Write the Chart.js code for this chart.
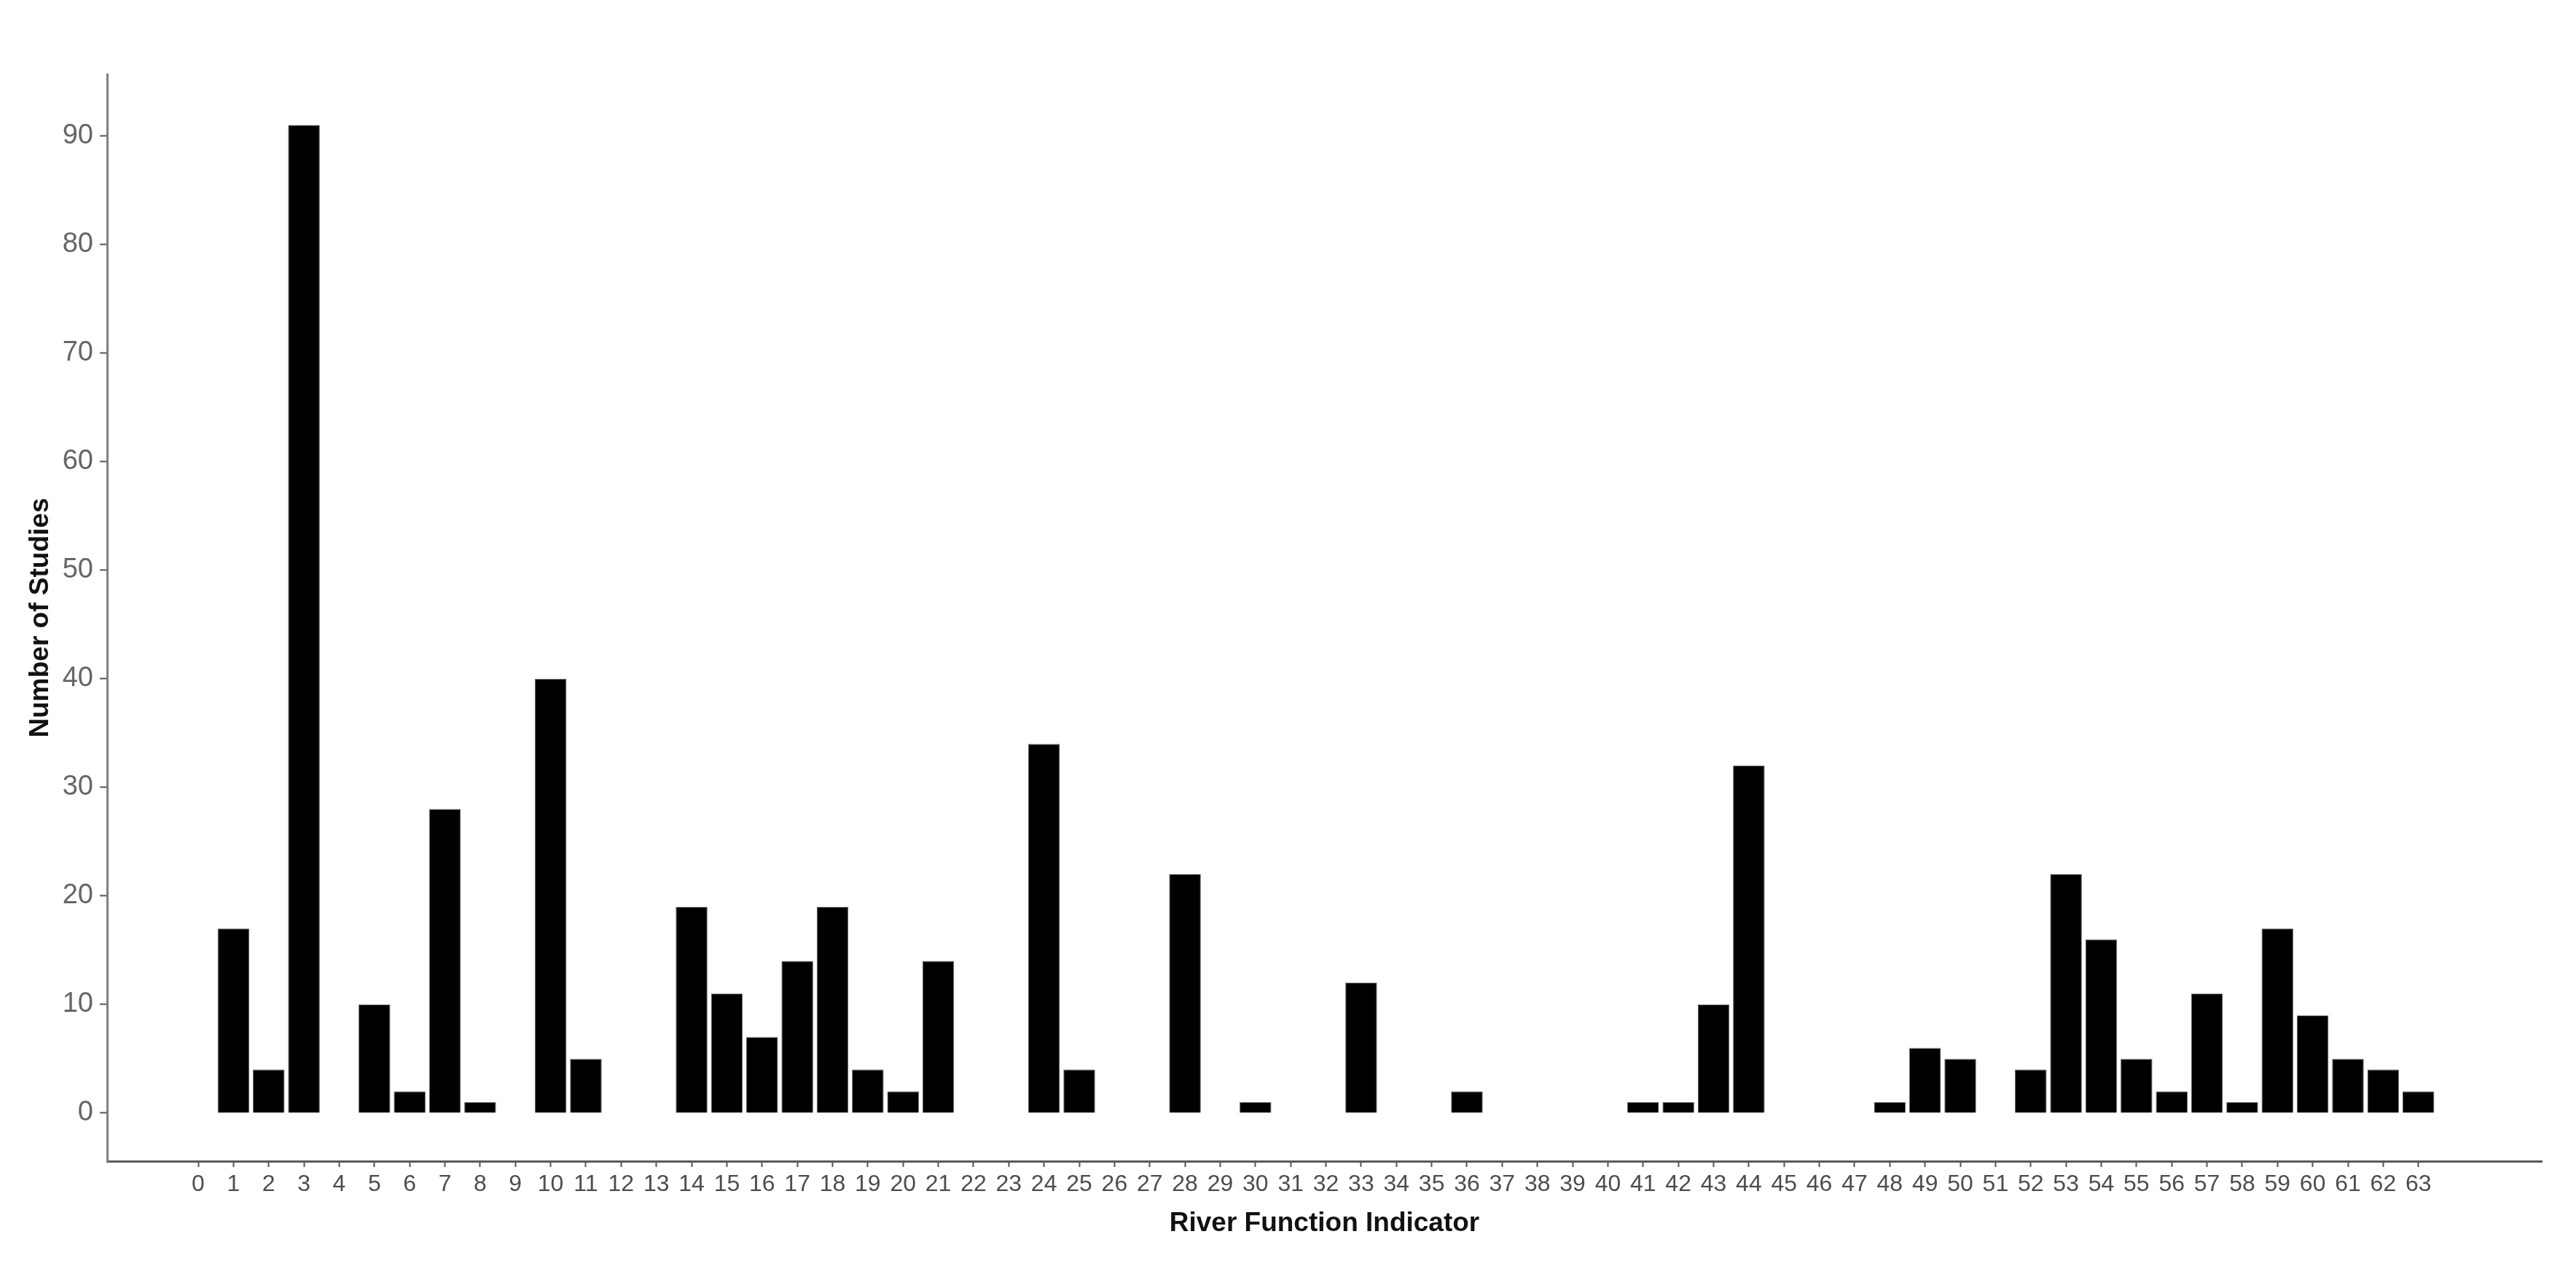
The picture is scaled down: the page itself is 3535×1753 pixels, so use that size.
<!DOCTYPE html>
<html>
<head>
<meta charset="utf-8">
<script src="https://cdn.jsdelivr.net/npm/chart.js@4.4.1/dist/chart.umd.min.js"></script>
<style>
  html, body { margin: 0; padding: 0; background: #ffffff; }
  #wrap { width: 3535px; height: 1753px; }
</style>
</head>
<body>
<div id="wrap"><canvas id="c" width="3535" height="1753"></canvas></div>
<script>
// River Function Indicator categories (0..63)
const categories = [0,1,2,3,4,5,6,7,8,9,10,11,12,13,14,15,16,17,18,19,20,21,22,23,24,25,26,27,28,29,30,31,32,33,34,35,36,37,38,39,40,41,42,43,44,45,46,47,48,49,50,51,52,53,54,55,56,57,58,59,60,61,62,63];
// Number of studies per indicator
const studies = [0,17,4,91,0,10,2,28,1,0,40,5,0,0,19,11,7,14,19,4,2,14,0,0,34,4,0,0,22,0,1,0,0,12,0,0,2,0,0,0,0,1,1,10,32,0,0,0,1,6,5,0,4,22,16,5,2,11,1,17,9,5,4,2];
// Tick labels
const xTickValues = categories;
const yTickValues = [0,10,20,30,40,50,60,70,80,90];
const xTitle = 'River Function Indicator';
const yTitle = 'Number of Studies';

const points = categories.map((c, i) => ({ x: c, y: studies[i] }));

new Chart(document.getElementById('c'), {
  type: 'bar',
  data: {
    datasets: [{
      data: points,
      backgroundColor: '#000000',
      borderColor: '#6a6a6a',
      borderWidth: 1,
      barPercentage: 0.9,
      categoryPercentage: 1.0
    }]
  },
  options: {
    responsive: false,
    animation: false,
    devicePixelRatio: 1,
    layout: { padding: { top: 102, right: 47, bottom: 0, left: 0 } },
    plugins: { legend: { display: false }, tooltip: { enabled: false } },
    scales: {
      x: {
        type: 'linear',
        offset: false,
        min: -2.585,
        max: 66.5,
        afterBuildTicks: s => { s.ticks = xTickValues.map(v => ({ value: v })); },
        afterFit: s => { s.height = 159; },
        grid: { display: true, offset: false, drawOnChartArea: false, drawTicks: true, tickLength: 8, tickColor: '#555555', tickWidth: 2 },
        border: { display: true, color: '#5a5a5a', width: 3 },
        ticks: {
          autoSkip: false, maxRotation: 0, minRotation: 0, padding: 5,
          color: '#4d4d4d',
          font: { family: '"Liberation Sans", Arial, sans-serif', size: 32 },
          callback: v => String(v)
        },
        title: {
          display: true, text: xTitle, color: '#111111',
          font: { family: '"Liberation Sans", Arial, sans-serif', size: 37, weight: 'bold' },
          padding: { top: 0, bottom: 51 }
        }
      },
      y: {
        type: 'linear',
        min: -4.43,
        max: 95.66,
        afterBuildTicks: s => { s.ticks = yTickValues.map(v => ({ value: v })); },
        afterFit: s => { s.width = 147; },
        grid: { display: true, drawOnChartArea: false, drawTicks: true, tickLength: 10, tickColor: '#555555', tickWidth: 2 },
        border: { display: true, color: '#808080', width: 3 },
        ticks: {
          padding: 9,
          color: '#666666',
          font: { family: '"Liberation Sans", Arial, sans-serif', size: 38 },
          callback: v => String(v)
        },
        title: {
          display: true, text: yTitle, color: '#111111',
          font: { family: '"Liberation Sans", Arial, sans-serif', size: 37, weight: 'bold' },
          padding: { top: 34, bottom: 0 }
        }
      }
    }
  }
});
</script>
</body>
</html>
